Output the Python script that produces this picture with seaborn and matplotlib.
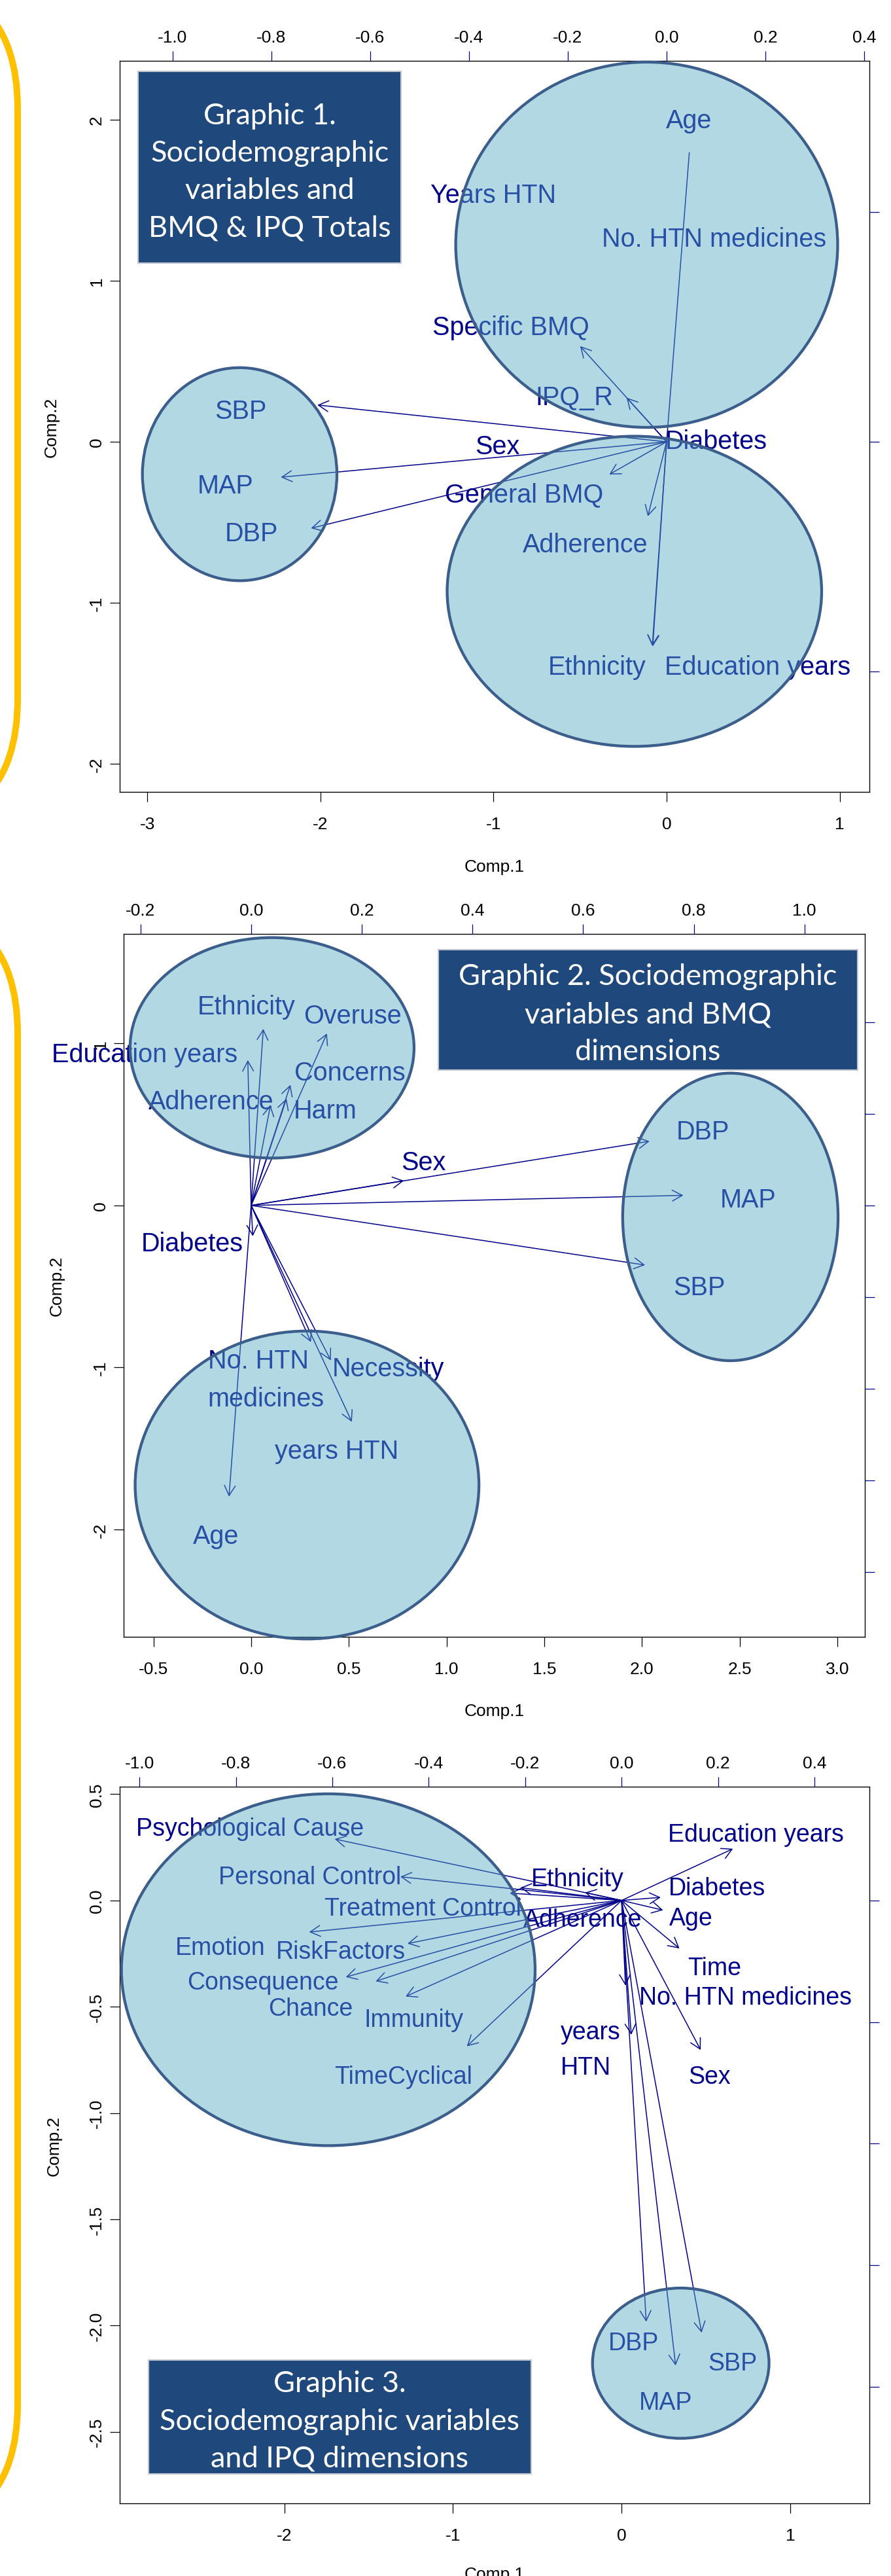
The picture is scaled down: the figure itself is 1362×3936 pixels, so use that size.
import matplotlib
matplotlib.use("Agg")
import matplotlib.pyplot as plt
import matplotlib.transforms as mtransforms
from matplotlib.patches import Ellipse, FancyArrowPatch, Rectangle, FancyBboxPatch
from matplotlib.ticker import FixedLocator, FormatStrFormatter, NullFormatter
import seaborn as sns

# ---------------- Graphic 1: sociodemographics + BMQ & IPQ totals ----------------
g1_arrow_vars = ["SBP", "MAP", "DBP", "Specific BMQ", "IPQ_R", "General BMQ",
                 "Adherence", "Ethnicity", "Education years", "Age"]
g1_arrow_x = [-0.707, -0.781, -0.720, -0.175, -0.081, -0.116, -0.038, -0.029, -0.028, 0.046]
g1_arrow_y = [0.080, -0.077, -0.188, 0.208, 0.096, -0.071, -0.162, -0.444, -0.445, 0.629]
g1_arrow_head = [True, True, True, True, True, True, True, True, True, False]

g1_label_vars = ["Age", "Years HTN", "No. HTN medicines", "Specific BMQ", "IPQ_R", "Diabetes",
                 "SBP", "Sex", "MAP", "General BMQ", "DBP", "Adherence", "Ethnicity",
                 "Education years"]
g1_label_x = [0.045, -0.351, 0.096, -0.315, -0.187, 0.101, -0.862, -0.342, -0.893, -0.289,
              -0.840, -0.165, -0.141, 0.184]
g1_label_y = [0.705, 0.543, 0.447, 0.255, 0.103, 0.007, 0.072, -0.004, -0.089, -0.109,
              -0.194, -0.217, -0.484, -0.484]

g1_ell_cx = [-0.115, -2.467, -0.186]
g1_ell_cy = [1.223, -0.201, -0.928]
g1_ell_w = [2.207, 1.124, 2.164]
g1_ell_h = [2.267, 1.322, 1.925]

g1_title = ["Graphic 1.", "Sociodemographic", "variables and", "BMQ & IPQ Totals"]

# ---------------- Graphic 2: sociodemographics + BMQ dimensions ----------------
g2_arrow_vars = ["Education years", "Ethnicity", "Overuse", "Concerns", "Harm", "Adherence",
                 "Sex", "Diabetes", "DBP", "MAP", "SBP", "Age", "No. HTN medicines",
                 "Necessity", "years HTN"]
g2_arrow_x = [-0.006, 0.022, 0.137, 0.071, 0.064, 0.035, 0.276, 0.003, 0.720, 0.781, 0.712,
              -0.040, 0.108, 0.144, 0.182]
g2_arrow_y = [0.317, 0.385, 0.375, 0.263, 0.233, 0.219, 0.054, -0.067, 0.140, 0.022, -0.130,
              -0.635, -0.298, -0.338, -0.472]
g2_arrow_head = [True] * 15

g2_label_vars = ["Ethnicity", "Overuse", "Education years", "Concerns", "Adherence", "Harm",
                 "DBP", "Sex", "MAP", "Diabetes", "SBP", "No. HTN\nmedicines", "Necessity",
                 "years HTN", "Age"]
g2_label_x = [-0.009, 0.183, -0.193, 0.178, -0.072, 0.134, 0.817, 0.311, 0.898, -0.107, 0.810,
              0.027, 0.248, 0.154, -0.063]
g2_label_y = [0.439, 0.419, 0.335, 0.295, 0.232, 0.212, 0.167, 0.100, 0.019, -0.077, -0.173,
              -0.380, -0.350, -0.530, -0.716]

g2_ell_cx = [0.107, 2.452, 0.286]
g2_ell_cy = [0.973, -0.071, -1.726]
g2_ell_w = [1.453, 1.102, 1.759]
g2_ell_h = [1.361, 1.775, 1.901]

g2_title = ["Graphic 2. Sociodemographic", "variables and BMQ", "dimensions"]

# ---------------- Graphic 3: sociodemographics + IPQ dimensions ----------------
g3_arrow_vars = ["Psychological Cause", "Personal Control", "Treatment Control", "Adherence",
                 "Ethnicity", "Emotion", "RiskFactors", "Consequence", "Chance", "Immunity",
                 "TimeCyclical", "Education years", "Diabetes", "Age", "Time",
                 "No. HTN medicines", "years HTN", "Sex", "DBP", "MAP", "SBP"]
g3_arrow_x = [-0.595, -0.459, -0.232, -0.210, -0.076, -0.648, -0.444, -0.572, -0.510, -0.448,
              -0.321, 0.231, 0.081, 0.086, 0.120, 0.008, 0.020, 0.164, 0.051, 0.112, 0.166]
g3_arrow_y = [0.101, 0.039, 0.012, 0.021, 0.013, -0.052, -0.071, -0.126, -0.133, -0.158,
              -0.240, 0.085, 0.005, -0.016, -0.079, -0.140, -0.221, -0.246, -0.693, -0.765,
              -0.711]
g3_arrow_head = [True] * 21

g3_label_vars = ["Psychological Cause", "Education years", "Personal Control", "Ethnicity",
                 "Diabetes", "Treatment Control", "Adherence", "Age", "Emotion", "RiskFactors",
                 "Time", "Consequence", "No. HTN medicines", "Chance", "Immunity",
                 "years\nHTN", "TimeCyclical", "Sex", "DBP", "SBP", "MAP"]
g3_label_x = [-0.771, 0.278, -0.647, -0.091, 0.198, -0.412, -0.081, 0.144, -0.833, -0.582,
              0.193, -0.744, 0.257, -0.645, -0.431, -0.064, -0.453, 0.183, 0.025, 0.230, 0.092]
g3_label_y = [0.122, 0.113, 0.043, 0.040, 0.024, -0.009, -0.027, -0.025, -0.073, -0.080,
              -0.107, -0.131, -0.155, -0.174, -0.192, -0.246, -0.285, -0.285, -0.724, -0.757,
              -0.822]

g3_ell_cx = [-1.740, 0.351]
g3_ell_cy = [-0.326, -2.177]
g3_ell_w = [2.454, 1.047]
g3_ell_h = [1.655, 0.707]

g3_title = ["Graphic 3.", "Sociodemographic variables", "and IPQ dimensions"]

# ---------------- styling ----------------
sns.set_theme(style="ticks")
plt.rcParams["font.family"] = ["Liberation Sans", "DejaVu Sans"]
plt.rcParams["axes.unicode_minus"] = False
plt.rcParams["axes.edgecolor"] = "black"
plt.rcParams["axes.linewidth"] = 1.0

NAVY = "#00008B"
ELL_FILL = (87 / 255, 174 / 255, 196 / 255, 0.46)
ELL_EDGE = "#3B5E8C"
BOX_FILL = "#1F497D"
BRACKET = "#FFC000"
TICK_SIZE = 19

W, H = 1362, 3937
fig = plt.figure(figsize=(W / 100, H / 100), dpi=100)
fig.patch.set_facecolor("white")

# pixel coordinates measured from the top-left corner of the canvas
pix = mtransforms.Affine2D().scale(1 / W, -1 / H).translate(0, 1) + fig.transFigure


def px_rect(left, top, right, bottom):
    return [left / W, 1 - bottom / H, (right - left) / W, (bottom - top) / H]


def draw_panel(rect, xlim, ylim, scale, bottom_ticks, bottom_fmt, left_ticks, left_fmt,
               top_ticks, right_ticks, arrows, labels, ellipses, label_size,
               xlabel_off, ylabel_off):
    l, t, r, b = rect
    ax = fig.add_axes(px_rect(*rect))
    ax.set_xlim(*xlim)
    ax.set_ylim(*ylim)
    ax.set_facecolor("white")
    for s in ax.spines.values():
        s.set_visible(True)
        s.set_color("black")
        s.set_linewidth(1.0)
    ax.xaxis.set_major_locator(FixedLocator(bottom_ticks))
    ax.xaxis.set_major_formatter(FormatStrFormatter(bottom_fmt))
    ax.yaxis.set_major_locator(FixedLocator(left_ticks))
    ax.yaxis.set_major_formatter(FormatStrFormatter(left_fmt))
    ax.tick_params(axis="x", bottom=True, top=False, labelbottom=True, labeltop=False,
                   length=10.8, width=0.9, color="black", labelsize=TICK_SIZE, pad=16,
                   labelcolor="black")
    ax.tick_params(axis="y", left=True, right=False, labelleft=True, labelright=False,
                   length=10.8, width=0.9, color="black", labelsize=TICK_SIZE, pad=6,
                   labelrotation=90, labelcolor="black")
    for tk in ax.yaxis.get_major_ticks():
        tk.label1.set_va("center")
    ax.set_xlabel("Comp.1", fontsize=TICK_SIZE, color="black")
    ax.xaxis.set_label_coords(0.5, -xlabel_off / (b - t))
    ax.xaxis.label.set_va("center")
    ax.set_ylabel("Comp.2", fontsize=TICK_SIZE, color="black")
    ax.yaxis.set_label_coords(-ylabel_off / (r - l), 0.5)
    ax.yaxis.label.set_va("center")

    # loadings axes (top / right scale)
    lax = fig.add_axes(px_rect(*rect), label="loadings%d" % int(t))
    lax.set_xlim(xlim[0] / scale, xlim[1] / scale)
    lax.set_ylim(ylim[0] / scale, ylim[1] / scale)
    lax.patch.set_visible(False)
    for s in lax.spines.values():
        s.set_visible(False)
    lax.grid(False)
    lax.xaxis.set_major_locator(FixedLocator(top_ticks))
    lax.xaxis.set_major_formatter(FormatStrFormatter("%.1f"))
    lax.yaxis.set_major_locator(FixedLocator(right_ticks))
    lax.yaxis.set_major_formatter(NullFormatter())
    lax.tick_params(axis="x", top=True, bottom=False, labeltop=True, labelbottom=False,
                    length=10.8, width=0.9, color=NAVY, labelcolor="black",
                    labelsize=TICK_SIZE, pad=6.5)
    lax.tick_params(axis="y", right=True, left=False, labelright=False, labelleft=False,
                    length=10.8, width=0.9, color=NAVY)

    names, xs, ys, heads = arrows
    for name, x, y, head in zip(names, xs, ys, heads):
        style = "->,head_length=0.55,head_width=0.3" if head else "-"
        lax.add_patch(FancyArrowPatch((0, 0), (x, y), arrowstyle=style, mutation_scale=20,
                                      color=NAVY, lw=1.1, shrinkA=0, shrinkB=0, zorder=2,
                                      clip_on=False))

    names, xs, ys = labels
    for name, x, y in zip(names, xs, ys):
        va = "center" if "\n" in name else "center_baseline"
        lax.text(x, y, name, ha="center", va=va, fontsize=label_size, color=NAVY,
                 multialignment="left", linespacing=1.65, zorder=3)

    cxs, cys, ws, hs = ellipses
    for cx, cy, w, h in zip(cxs, cys, ws, hs):
        lax.add_artist(Ellipse((cx, cy), w, h, transform=ax.transData, facecolor=ELL_FILL,
                               edgecolor="none", zorder=4, clip_on=False))
        lax.add_artist(Ellipse((cx, cy), w, h, transform=ax.transData, facecolor="none",
                               edgecolor=ELL_EDGE, lw=3.1, zorder=5, clip_on=False))
    return ax, lax


def title_box(x0, y0, x1, y1, lines, baselines, size):
    fig.add_artist(Rectangle((x0, y0), x1 - x0, y1 - y0, transform=pix, facecolor=BOX_FILL,
                             edgecolor="#C3C7CF", lw=1.5, zorder=20))
    for line, yb in zip(lines, baselines):
        fig.text((x0 + x1) / 2 / W, 1 - yb / H, line, ha="center", va="baseline",
                 color="white", fontsize=size, family=["Lato", "DejaVu Sans"], zorder=21)


# yellow brackets down the left margin
for top, bottom in [(167, 1069), (1580, 3674)]:
    rad = 200
    fig.add_artist(FancyBboxPatch((27 - 700, top - rad), 700, bottom - top + 2 * rad,
                                  boxstyle="round,pad=0,rounding_size=%d" % rad, transform=pix,
                                  facecolor="none", edgecolor=BRACKET, lw=7.2, zorder=1))

draw_panel((183.3, 94.3, 1329, 1210.5), (-3.159, 1.172), (-2.171, 2.363), 2.854,
           [-3, -2, -1, 0, 1], "%d", [-2, -1, 0, 1, 2], "%d",
           [-1.0, -0.8, -0.6, -0.4, -0.2, 0.0, 0.2, 0.4], [-0.5, 0.0, 0.5],
           (g1_arrow_vars, g1_arrow_x, g1_arrow_y, g1_arrow_head),
           (g1_label_vars, g1_label_x, g1_label_y),
           (g1_ell_cx, g1_ell_cy, g1_ell_w, g1_ell_h), 28.5, 114.5, 105)

draw_panel((189.4, 1427.8, 1322, 2501.9), (-0.651, 3.140), (-2.663, 1.677), 2.831,
           [-0.5, 0.0, 0.5, 1.0, 1.5, 2.0, 2.5, 3.0], "%.1f", [-2, -1, 0, 1], "%d",
           [-0.2, 0.0, 0.2, 0.4, 0.6, 0.8, 1.0], [-0.8, -0.6, -0.4, -0.2, 0.0, 0.2, 0.4],
           (g2_arrow_vars, g2_arrow_x, g2_arrow_y, g2_arrow_head),
           (g2_label_vars, g2_label_x, g2_label_y),
           (g2_ell_cx, g2_ell_cy, g2_ell_w, g2_ell_h), 28.5, 112.8, 102.4)

draw_panel((183.3, 2731, 1329, 3826.2), (-2.976, 1.470), (-2.837, 0.535), 2.86,
           [-2, -1, 0, 1], "%d", [-2.5, -2.0, -1.5, -1.0, -0.5, 0.0, 0.5], "%.1f",
           [-1.0, -0.8, -0.6, -0.4, -0.2, 0.0, 0.2, 0.4], [-0.8, -0.6, -0.4, -0.2, 0.0],
           (g3_arrow_vars, g3_arrow_x, g3_arrow_y, g3_arrow_head),
           (g3_label_vars, g3_label_x, g3_label_y),
           (g3_ell_cx, g3_ell_cy, g3_ell_w, g3_ell_h), 27, 108, 100.8)

title_box(211, 110.3, 613.2, 403.2, g1_title, [190, 247, 304, 361], 32.5)
title_box(669.7, 1452.2, 1310.7, 1635.7, g2_title, [1505, 1563, 1620], 32.5)
title_box(226.7, 3607, 812.1, 3780.7, g3_title, [3655, 3713, 3770], 32.5)

fig.savefig("out.png", dpi=100, facecolor="white")
